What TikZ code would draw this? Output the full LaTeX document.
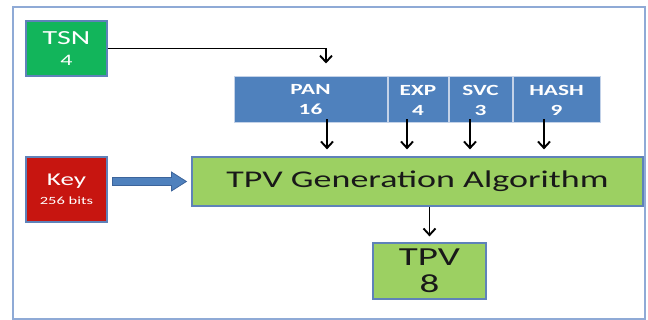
\documentclass[tikz,border=0pt]{standalone}
\usepackage{fontspec}
\setmainfont{Carlito}[FakeStretch=1.5]
\usetikzlibrary{arrows.meta}

\definecolor{framebl}{RGB}{143,170,214}
\definecolor{boxline}{RGB}{95,130,185}
\definecolor{fieldline}{RGB}{195,210,232}
\definecolor{fieldblue}{RGB}{79,129,189}
\definecolor{tsngreen}{RGB}{18,181,91}
\definecolor{keyred}{RGB}{199,21,16}
\definecolor{algogreen}{RGB}{156,208,98}
\definecolor{arrowline}{RGB}{60,100,155}

\begin{document}
\begin{tikzpicture}[x=1pt,y=1pt,
    box/.style={draw=boxline,line width=1.2pt,inner sep=0pt,align=center},
    field/.style={draw=fieldline,line width=1pt,fill=fieldblue,text=white,minimum height=46pt,
        inner sep=0pt,align=center,font=\fontsize{15.5}{20}\selectfont\bfseries},
    arr/.style={line width=1.9pt,-{Straight Barb[length=6.5pt,width=12pt]}}]
    \useasboundingbox (0,0) rectangle (648,320);
    \draw[framebl,line width=1.5pt] (13,1) rectangle (645,313);

    \node[box,fill=tsngreen,text=white,minimum width=81pt,minimum height=55pt,
        font=\fontsize{20}{21}\selectfont] (tsn) at (66.5,271.5) {TSN\\{\fontsize{16}{21}\selectfont 4}};
    \node[box,fill=keyred,text=white,minimum width=81pt,minimum height=65pt,
        font=\fontsize{18}{19}\selectfont] (key) at (66.5,130.5) {Key\\{\fontsize{11}{19}\selectfont 256 bits}};

    \node[field,minimum width=153pt] (pan) at (310.5,220) {PAN\\16};
    \node[field,minimum width=60pt,anchor=west] (exp) at (pan.east) {EXP\\4};
    \node[field,minimum width=63pt,anchor=west] (svc) at (exp.east) {SVC\\3};
    \node[field,minimum width=87pt,anchor=west] (hash) at (svc.east) {HASH\\9};

    \node[box,fill=algogreen,text={black!90},minimum width=451pt,minimum height=49pt,
        font=\fontsize{24}{26}\selectfont] (algo) at (417.5,138.5) {TPV Generation Algorithm};
    \node[box,fill=algogreen,text={black!90},minimum width=113pt,minimum height=56pt,
        font=\fontsize{26}{27}\selectfont] (tpv) at (429.5,49) {TPV\\8};

    \draw[arr,shorten >=13pt] (tsn.east) -| ([xshift=15.5pt]pan.north);
    \draw[arr,shorten >=7pt] ([xshift=16.5pt,yshift=4pt]pan.south) -- ([xshift=16.5pt]pan.south |- algo.north);
    \draw[arr,shorten >=7pt] ([xshift=-11pt,yshift=4pt]exp.south) -- ([xshift=-11pt]exp.south |- algo.north);
    \draw[arr,shorten >=7pt] ([xshift=-10.5pt,yshift=4pt]svc.south) -- ([xshift=-10.5pt]svc.south |- algo.north);
    \draw[arr,shorten >=7pt] ([xshift=-12.5pt,yshift=4pt]hash.south) -- ([xshift=-12.5pt]hash.south |- algo.north);
    \draw[arr,shorten >=6pt] (tpv.north |- algo.south) -- (tpv.north);

    % block arrow from the key into the algorithm
    \coordinate (keytip) at ([xshift=-5pt]algo.west);
    \draw[draw=arrowline,fill=fieldblue,line width=0.8pt] (keytip) -- ++(-15,9.5) -- ++(0,-5.5)
        -- ++(-59,0) -- ++(0,-8) -- ++(59,0) -- ++(0,-5.5) -- cycle;
\end{tikzpicture}
\end{document}
